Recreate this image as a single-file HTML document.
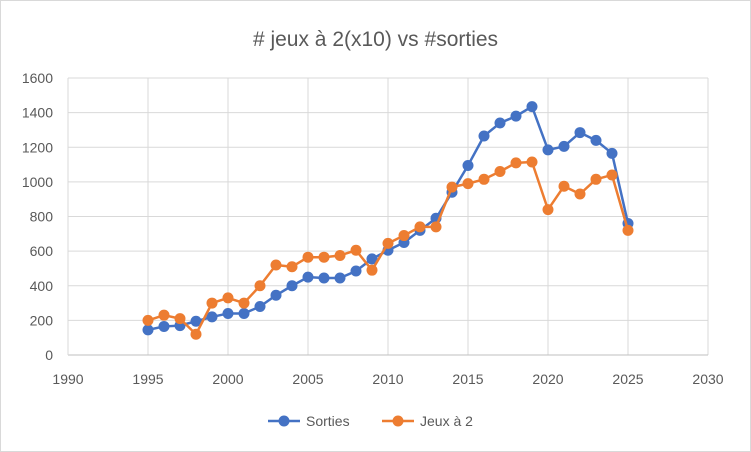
<!DOCTYPE html>
<html><head><meta charset="utf-8"><style>
body{margin:0;background:#fff;}
svg{display:block;font-family:"Liberation Sans",sans-serif;}
</style></head><body>
<svg id="c" width="751" height="452" xmlns="http://www.w3.org/2000/svg">
<rect x="0.5" y="0.5" width="750" height="451" fill="#fff" stroke="#d9d9d9"/>
<text x="375.5" y="46" text-anchor="middle" font-size="21" fill="#595959"># jeux à 2(x10) vs #sorties</text>
<g id="g"></g>
</svg>
<script>
var g=document.getElementById('g'),h='';
function X(y){return 68+(y-1990)*16;}
function Y(v){return 355-v*0.1731;}
for(var v=200;v<=1600;v+=200)h+='<line x1="68" x2="708" y1="'+Y(v)+'" y2="'+Y(v)+'" stroke="#d9d9d9" stroke-width="1"/>';
for(var y=1995;y<=2030;y+=5)h+='<line x1="'+X(y)+'" x2="'+X(y)+'" y1="'+Y(1600)+'" y2="355" stroke="#d9d9d9" stroke-width="1"/>';
h+='<line x1="68" x2="708" y1="355" y2="355" stroke="#bfbfbf"/><line x1="68" x2="68" y1="'+Y(1600)+'" y2="355" stroke="#d9d9d9"/>';
for(var v=0;v<=1600;v+=200)h+='<text x="53" y="'+(Y(v)+5)+'" text-anchor="end" font-size="14" fill="#595959">'+v+'</text>';
for(var y=1990;y<=2030;y+=5)h+='<text x="'+X(y)+'" y="384" text-anchor="middle" font-size="14" fill="#595959">'+y+'</text>';
var b=[145,165,170,195,220,240,240,280,345,400,450,445,445,485,555,605,650,720,790,940,1095,1265,1340,1380,1435,1185,1205,1285,1240,1165,760];
var o=[200,230,210,120,300,330,300,400,520,510,565,565,575,605,490,645,690,740,740,970,990,1015,1060,1110,1115,840,975,930,1015,1040,720];
function s(d,c){var p=d.map(function(v,i){return X(1995+i)+','+Y(v);}).join(' ');
h+='<polyline points="'+p+'" fill="none" stroke="'+c+'" stroke-width="2.5" stroke-linejoin="round"/>';
d.forEach(function(v,i){h+='<circle cx="'+X(1995+i)+'" cy="'+Y(v)+'" r="5.5" fill="'+c+'"/>';});}
s(b,'#4472c4');s(o,'#ed7d31');
h+='<line x1="268" x2="300" y1="421" y2="421" stroke="#4472c4" stroke-width="2.5"/><circle cx="284" cy="421" r="5.5" fill="#4472c4"/><text x="306" y="426" font-size="14" fill="#595959">Sorties</text>';
h+='<line x1="382" x2="414" y1="421" y2="421" stroke="#ed7d31" stroke-width="2.5"/><circle cx="398" cy="421" r="5.5" fill="#ed7d31"/><text x="420" y="426" font-size="14" fill="#595959">Jeux à 2</text>';
g.innerHTML=h;
</script>
</body></html>
